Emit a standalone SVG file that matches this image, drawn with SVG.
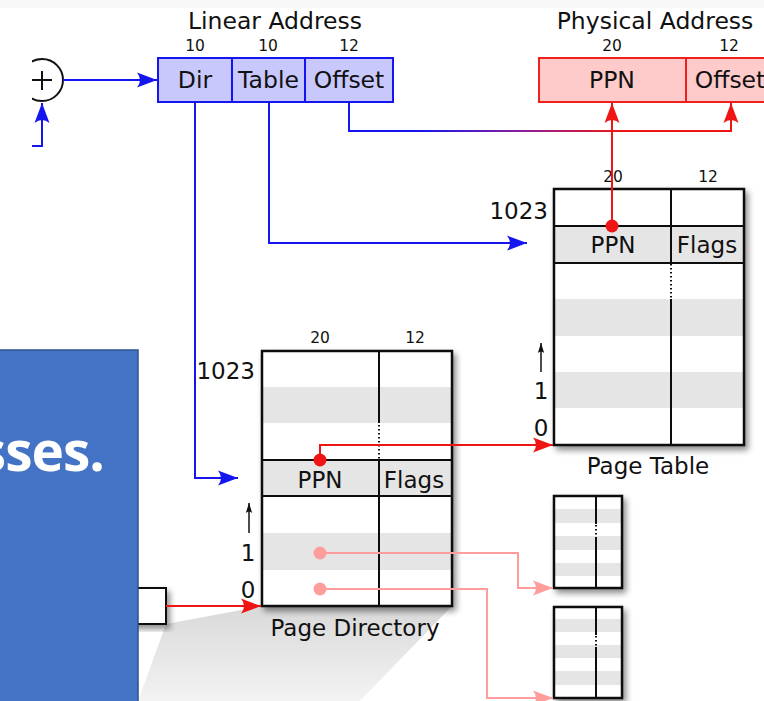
<svg xmlns="http://www.w3.org/2000/svg" width="764" height="701" viewBox="0 0 764 701">
<style>
text{font-family:"DejaVu Sans",Verdana,sans-serif;fill:#111}
.big{font-size:23.5px}
.num{font-size:15.5px}
.mid{font-size:23px}
.tbl{fill:#fff;stroke:none}
.band{fill:#e5e5e5}
.frame{fill:none;stroke:#111;stroke-width:2.5}
.ln{stroke:#111;stroke-width:2;fill:none}
.dot{stroke:#111;stroke-width:2;stroke-dasharray:1.5 2.5;fill:none}
.blue{stroke:#1515f0;stroke-width:2;fill:none}
.red{stroke:#f01515;stroke-width:2;fill:none}
.pink{stroke:#ff9c9c;stroke-width:2;fill:none}
</style>
<defs>
<marker id="ab" markerUnits="userSpaceOnUse" viewBox="-20 -8 21 16" refX="0" refY="0" markerWidth="21" markerHeight="16" orient="auto"><path d="M0,0 L-20,-7.5 Q-14,0 -20,7.5 Z" fill="#1515f0"/></marker>
<marker id="ar" markerUnits="userSpaceOnUse" viewBox="-20 -8 21 16" refX="0" refY="0" markerWidth="21" markerHeight="16" orient="auto"><path d="M0,0 L-20,-7.5 Q-14,0 -20,7.5 Z" fill="#f01515"/></marker>
<marker id="ap" markerUnits="userSpaceOnUse" viewBox="-20 -8 21 16" refX="0" refY="0" markerWidth="21" markerHeight="16" orient="auto"><path d="M0,0 L-20,-7.5 Q-14,0 -20,7.5 Z" fill="#ff9c9c"/></marker>
<marker id="ak" markerUnits="userSpaceOnUse" viewBox="-10 -4 11 8" refX="0" refY="0" markerWidth="11" markerHeight="8" orient="auto"><path d="M0,0 L-10,-3.2 Q-7,0 -10,3.2 Z" fill="#111"/></marker>
<linearGradient id="gp" gradientUnits="userSpaceOnUse" x1="420" y1="0" x2="620" y2="0"><stop offset="0" stop-color="#1515f0"/><stop offset="0.5" stop-color="#8a1fa0"/><stop offset="1" stop-color="#f01515"/></linearGradient>
<linearGradient id="gw" x1="0" y1="0" x2="0" y2="1"><stop offset="0" stop-color="#d9d9d9"/><stop offset="1" stop-color="#f3f3f3"/></linearGradient>
<filter id="sh" x="-20%" y="-20%" width="140%" height="140%"><feGaussianBlur in="SourceAlpha" stdDeviation="3"/><feOffset dx="3" dy="4"/><feComponentTransfer><feFuncA type="linear" slope="0.45"/></feComponentTransfer><feMerge><feMergeNode/><feMergeNode in="SourceGraphic"/></feMerge></filter>
<clipPath id="cl"><rect x="32" y="0" width="200" height="200"/></clipPath>
</defs>
<rect width="764" height="701" fill="#fff"/>
<rect x="0" y="0" width="764" height="8" fill="#f8f8f8"/>
<polygon id="wedge" points="166,624 262,606 452,606 360,701 138,701" fill="url(#gw)"/>

<g id="adder" clip-path="url(#cl)">
<circle cx="42" cy="80" r="21" fill="#fff" stroke="#111" stroke-width="2"/>
<path d="M32,80 H52 M42,71 V90" stroke="#111" stroke-width="2"/>
</g>

<g id="linear-address">
<text class="big" x="275" y="29" text-anchor="middle">Linear Address</text>
<text class="num" x="195" y="51" text-anchor="middle">10</text>
<text class="num" x="268" y="51" text-anchor="middle">10</text>
<text class="num" x="349" y="51" text-anchor="middle">12</text>
<rect x="158" y="58" width="235" height="44" fill="#c8c8fc" stroke="#1515f0" stroke-width="2"/>
<path d="M232,58 V102 M305,58 V102" stroke="#1515f0" stroke-width="2"/>
<text class="big" x="195" y="88" text-anchor="middle">Dir</text>
<text class="big" x="268.5" y="88" text-anchor="middle">Table</text>
<text class="big" x="349" y="88" text-anchor="middle">Offset</text>
</g>

<g id="physical-address">
<text class="big" x="655" y="29" text-anchor="middle">Physical Address</text>
<text class="num" x="612" y="51" text-anchor="middle">20</text>
<text class="num" x="729" y="51" text-anchor="middle">12</text>
<rect x="539" y="58" width="240" height="44" fill="#ffcaca" stroke="#ee2020" stroke-width="2"/>
<path d="M686,58 V102" stroke="#ee2020" stroke-width="2"/>
<text class="big" x="612" y="88" text-anchor="middle">PPN</text>
<text class="big" x="730" y="88" text-anchor="middle">Offset</text>
</g>

<g id="page-table">
<g filter="url(#sh)">
<rect class="tbl" x="554" y="189" width="190" height="256"/>
<rect class="band" x="554" y="226" width="190" height="37"/>
<rect class="band" x="554" y="299" width="190" height="37"/>
<rect class="band" x="554" y="372" width="190" height="36"/>
<path class="ln" d="M554,226 H744 M554,263 H744 M671,189 V263 M671,299 V445"/>
<path class="dot" d="M671,264 V298"/>
<rect class="frame" x="554" y="189" width="190" height="256"/>
</g>
<text class="num" x="613" y="182" text-anchor="middle">20</text>
<text class="num" x="708" y="182" text-anchor="middle">12</text>
<text class="mid" x="548" y="219" text-anchor="end">1023</text>
<text class="mid" x="613" y="253" text-anchor="middle">PPN</text>
<text class="mid" x="707" y="253" text-anchor="middle">Flags</text>
<path d="M541,372 V343" stroke="#111" stroke-width="1.5" marker-end="url(#ak)"/>
<text class="mid" x="541" y="399" text-anchor="middle">1</text>
<text class="mid" x="541" y="436" text-anchor="middle">0</text>
<text class="mid" x="648" y="474" text-anchor="middle">Page Table</text>
</g>

<g id="page-directory">
<g filter="url(#sh)">
<rect class="tbl" x="262" y="351" width="190" height="255"/>
<rect class="band" x="262" y="387" width="190" height="36"/>
<rect class="band" x="262" y="460" width="190" height="36"/>
<rect class="band" x="262" y="533" width="190" height="37"/>
<path class="ln" d="M262,460 H452 M262,496 H452 M379,351 V423 M379,460 V606"/>
<path class="dot" d="M379,425 V459"/>
<rect class="frame" x="262" y="351" width="190" height="255"/>
</g>
<text class="num" x="320" y="343" text-anchor="middle">20</text>
<text class="num" x="415" y="343" text-anchor="middle">12</text>
<text class="mid" x="255" y="379" text-anchor="end">1023</text>
<text class="mid" x="320" y="488" text-anchor="middle">PPN</text>
<text class="mid" x="414" y="488" text-anchor="middle">Flags</text>
<path d="M249,533 V503" stroke="#111" stroke-width="1.5" marker-end="url(#ak)"/>
<text class="mid" x="248" y="561" text-anchor="middle">1</text>
<text class="mid" x="248" y="598" text-anchor="middle">0</text>
<text class="mid" x="355" y="636" text-anchor="middle">Page Directory</text>
</g>

<g id="small-table-1" filter="url(#sh)">
<rect class="tbl" x="554" y="496" width="68" height="92"/>
<rect class="band" x="554" y="509" width="68" height="14"/>
<rect class="band" x="554" y="536" width="68" height="14"/>
<rect class="band" x="554" y="563" width="68" height="13"/>
<path class="ln" d="M596,496 V524 M596,537 V588"/>
<path class="dot" d="M596,525 V536"/>
<rect class="frame" x="554" y="496" width="68" height="92"/>
</g>

<g id="small-table-2" filter="url(#sh)">
<rect class="tbl" x="554" y="607" width="68" height="91"/>
<rect class="band" x="554" y="619" width="68" height="13"/>
<rect class="band" x="554" y="645" width="68" height="13"/>
<rect class="band" x="554" y="671" width="68" height="14"/>
<path class="ln" d="M596,607 V635 M596,647 V698"/>
<path class="dot" d="M596,636 V646"/>
<rect class="frame" x="554" y="607" width="68" height="91"/>
</g>

<g id="register" filter="url(#sh)">
<rect x="120" y="588" width="46" height="36" fill="#fff" stroke="#111" stroke-width="2"/>
</g>

<g id="connectors">
<path class="blue" d="M63,80 H157" marker-end="url(#ab)"/>
<path class="blue" d="M32,146 H42 V103" marker-end="url(#ab)"/>
<path class="blue" d="M195,102 V478 H238" marker-end="url(#ab)"/>
<path class="blue" d="M269,102 V243 H527" marker-end="url(#ab)"/>
<path d="M349,102 V131 H731 V103" stroke="url(#gp)" stroke-width="2" fill="none"/>
<path class="red" d="M731,120 V103" marker-end="url(#ar)"/>
<path class="red" d="M612,226 V103" marker-end="url(#ar)"/>
<circle cx="612" cy="226" r="6.5" fill="#f01515"/>
<path class="red" d="M320,460 V445 H553" marker-end="url(#ar)"/>
<circle cx="320" cy="460" r="6.5" fill="#f01515"/>
<path class="red" d="M166,606 H261" marker-end="url(#ar)"/>
<path class="pink" d="M320,553 H518 V588 H553" marker-end="url(#ap)"/>
<circle cx="320" cy="553" r="6.5" fill="#ff9c9c"/>
<path class="pink" d="M320,589 H487 V698 H553" marker-end="url(#ap)"/>
<circle cx="320" cy="589" r="6.5" fill="#ff9c9c"/>
</g>

<g id="slide-box">
<rect x="-2" y="350" width="140" height="353" fill="#4472c4" stroke="#2f528f" stroke-width="1.5"/>
<text x="104" y="471" text-anchor="end" style="font-family:'Open Sans','Noto Sans',sans-serif;font-weight:bold;font-size:55px;fill:#fff;letter-spacing:-1px">sses.</text>
</g>
</svg>
